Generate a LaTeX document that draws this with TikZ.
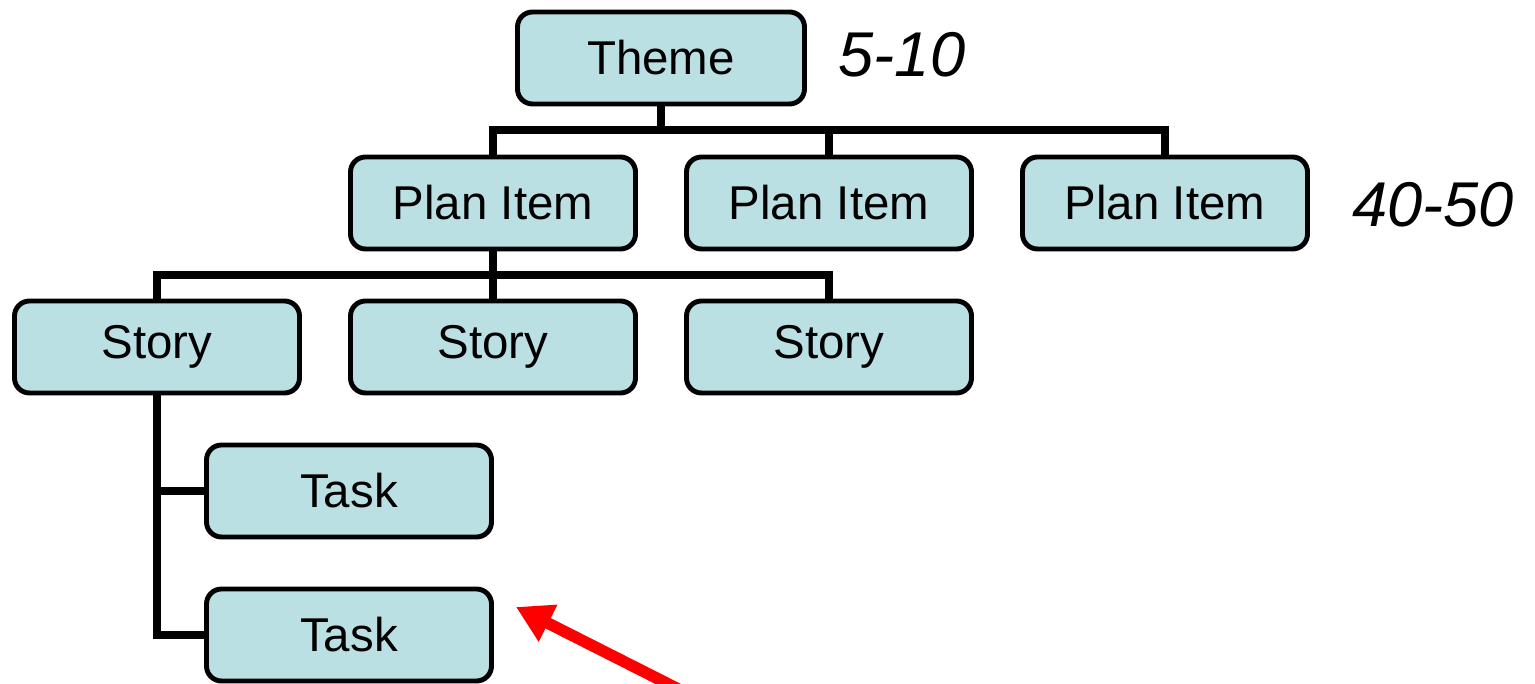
\documentclass[tikz,border=0pt]{standalone}
\usepackage{fontspec}
\setmainfont{Liberation Sans}
\usetikzlibrary{arrows.meta, positioning}
\definecolor{boxfill}{RGB}{187,224,227}
\newcommand{\boxfont}{\fontsize{13.5}{16}\selectfont}
\newcommand{\countfont}{\fontsize{18}{21}\selectfont\itshape}

\begin{document}
\begin{tikzpicture}[
    item/.style={draw, rounded corners=0.15cm, line width=1.4pt, fill=boxfill,
                 minimum width=2.85cm, minimum height=0.92cm, inner sep=0pt,
                 font=\boxfont},
    link/.style={line width=2.1pt},
    count/.style={font=\countfont, inner sep=0pt},
    pointer/.style={red, line width=3.3pt, -{Triangle[length=3.6mm, width=3.9mm]}}]
  \useasboundingbox (0,0) rectangle (15.35,6.84);

  \node[item, minimum width=2.87cm] (theme) at (6.61,6.26) {Theme};
  \foreach \x [count=\i] in {4.93,8.29,11.65}{
    \node[item] (plan\i) at (\x,4.81) {Plan Item};
  };
  \foreach \x [count=\i] in {1.57,4.93,8.29}{
    \node[item] (story\i) at (\x,3.37) {Story};
  };
  \node[item] (task1) at (3.49,1.93) {Task};
  \node[item] (task2) at (3.49,0.49) {Task};

  \node[count] (themecount) at (9.02,6.29) {5-10};
  \node[count] (plancount) at (14.33,4.79) {40-50};

  % tree lines
  \coordinate (bus1) at (6.61,5.54);
  \coordinate (bus2) at (4.93,4.09);
  \draw[link] (theme.south) -- (bus1);
  \foreach \i in {1,2,3}{
    \draw[link] (plan\i.north) |- (bus1);
  };
  \draw[link] (plan1.south) -- (bus2);
  \foreach \i in {1,2,3}{
    \draw[link] (story\i.north) |- (bus2);
  };
  \draw[link] (story1.south) |- (task2.west);
  \draw[link] (task1.west) -- (task1.west -| story1.south);

  % red arrow
  \coordinate (tail) at (6.90,-0.11);
  \coordinate (tip) at (5.16,0.77);
  \draw[pointer] (tail) -- (tip);
\end{tikzpicture}
\end{document}
